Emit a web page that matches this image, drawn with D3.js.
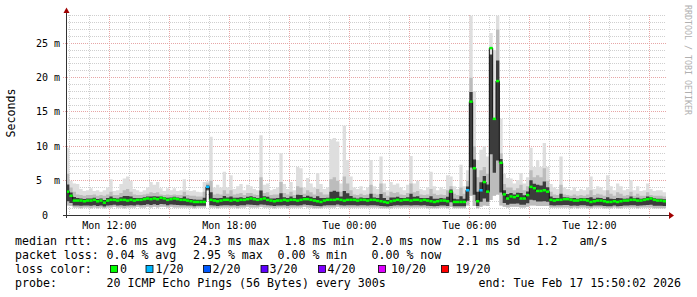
<!DOCTYPE html>
<html><head><meta charset="utf-8">
<script src="https://cdn.jsdelivr.net/npm/d3@7"></script>
<style>
html,body{margin:0;padding:0;background:#fff;}
svg text{font-family:"DejaVu Sans Mono",monospace;white-space:pre;}
</style></head><body>
<svg id="c" width="697" height="297"></svg>
<script>
// ---- data (10-minute buckets, Mon Feb 16 09:50 -> Tue Feb 17 15:50) ----
const stepMinutes = 10;
const medianRtt = [
3.4,2.8,2.1,2.1,2.1,2.0,2.1,2.1,2.2,2.0,
2.1,1.8,2.1,2.2,2.2,2.1,2.2,2.2,2.1,2.2,
2.1,2.2,2.2,2.3,2.4,2.3,2.4,2.3,2.5,2.4,
2.2,2.3,2.4,2.3,2.2,2.2,2.1,2.0,1.9,1.9,
1.9,1.9,4.1,2.2,2.1,2.0,2.1,2.2,2.2,2.1,
2.2,2.1,2.2,2.2,2.3,2.4,2.3,2.2,2.3,2.4,
2.2,2.1,2.0,2.1,2.1,2.2,2.1,2.2,2.2,2.1,
2.2,2.3,2.3,2.2,2.1,2.0,1.9,2.1,2.2,2.2,
2.2,2.3,2.2,2.1,2.2,2.2,2.2,2.1,2.2,2.2,
2.1,2.2,2.2,2.1,2.0,1.9,1.8,2.0,2.1,2.2,
2.1,2.2,2.2,2.1,2.2,2.2,2.1,2.2,2.1,2.0,
1.9,2.0,2.1,2.1,2.0,3.4,1.9,1.9,1.9,1.9,
3.6,16.5,6.8,2.0,3.6,4.8,3.4,24.3,14.0,19.5,
7.6,3.0,2.4,2.7,2.6,2.8,2.4,2.4,2.9,4.1,
3.9,3.5,3.5,3.6,3.4,2.2,2.1,2.2,2.2,2.3,
2.3,2.2,2.1,2.1,2.2,2.2,2.1,1.9,2.0,2.1,
2.1,2.0,1.9,1.9,2.0,1.9,2.0,2.1,2.1,2.2,
2.2,2.1,2.1,2.2,2.3,2.4,2.2,2.1,2.1,2.0];
const lossCount = [
0,0,0,0,0,0,0,0,0,0, 0,0,0,0,0,0,0,0,0,0,
0,0,0,0,0,0,0,0,0,0, 0,0,0,0,0,0,0,0,0,0,
0,0,1,0,0,0,0,0,0,0, 0,0,0,0,0,0,0,0,0,0,
0,0,0,0,0,0,0,0,0,0, 0,0,0,0,0,0,0,0,0,0,
0,0,0,0,0,0,0,0,0,0, 0,0,0,0,0,0,0,0,0,0,
0,0,0,0,0,0,0,0,0,0, 0,0,0,0,0,0,0,0,0,0,
1,0,0,0,1,0,0,0,0,0, 0,0,0,0,0,0,0,0,0,0,
0,0,0,0,0,0,0,0,0,0, 0,0,0,0,0,0,0,0,0,0,
0,0,0,0,0,0,0,0,0,0, 0,0,0,0,0,0,0,0,0,0];
const smokeMin = [
1.4,1.3,1.1,1.1,1.0,1.1,1.1,1.0,1.1,1.0,
1.1,1.0,1.1,1.1,1.2,1.1,1.1,1.0,1.1,1.1,
1.1,1.2,1.1,1.1,1.2,1.1,1.2,1.1,1.2,1.2,
1.1,1.2,1.1,1.1,1.1,1.1,1.1,1.1,1.0,1.1,
1.1,1.1,3.5,1.1,1.1,1.0,1.1,1.1,1.1,1.1,
1.1,1.0,1.1,1.1,1.2,1.1,1.1,1.1,1.2,1.1,
1.1,1.1,1.0,1.1,1.1,1.1,1.0,1.1,1.1,1.1,
1.1,1.2,1.1,1.1,1.0,1.0,1.0,1.1,1.1,1.1,
1.1,1.2,1.1,1.1,1.1,1.1,1.1,1.1,1.1,1.1,
1.1,1.1,1.1,1.1,1.0,1.0,1.0,1.0,1.1,1.1,
1.1,1.1,1.1,1.1,1.1,1.1,1.1,1.1,1.0,1.0,
1.0,1.0,1.1,1.1,1.0,1.2,1.0,1.0,1.0,1.0,
1.4,2.8,1.3,1.0,1.2,1.4,1.3,2.2,2.8,3.0,
1.4,1.2,1.1,1.2,1.2,1.2,1.1,1.1,1.2,1.4,
1.4,1.3,1.3,1.3,1.3,1.1,1.1,1.1,1.1,1.1,
1.1,1.0,1.1,1.0,1.1,1.1,1.0,1.0,1.1,1.1,
1.1,1.0,1.0,1.0,1.1,1.0,1.0,1.1,1.1,1.1,
1.1,1.0,1.1,1.1,1.1,1.1,1.0,1.0,1.0,1.0];
const smokeMid = [
6.0,4.0,3.4,3.0,2.9,2.8,2.9,2.9,3.0,2.8,
2.9,2.8,3.0,3.4,2.9,2.9,3.2,3.6,3.8,3.4,
3.0,2.9,2.9,3.0,3.1,3.3,3.2,3.3,3.0,2.9,
3.0,2.9,3.0,2.9,2.9,3.4,2.9,2.8,2.8,2.7,
2.7,3.4,4.6,5.0,3.0,3.1,3.0,3.6,3.1,3.6,
3.0,3.1,3.2,2.9,3.2,3.2,3.0,2.9,5.5,3.2,
3.3,2.9,3.0,3.0,4.8,3.2,3.0,3.4,2.9,4.2,
4.0,3.1,3.6,3.3,3.0,3.8,3.3,3.0,3.0,5.2,
5.5,5.0,3.4,5.6,4.6,3.6,3.0,2.9,3.1,2.9,
3.0,4.4,3.1,3.0,4.6,3.3,2.8,3.4,3.2,3.3,
3.0,2.9,3.2,4.6,3.3,3.5,3.0,2.9,3.0,3.8,
3.1,2.9,3.0,2.9,3.6,4.2,3.1,2.9,4.0,3.1,
5.0,20.0,10.0,5.5,6.5,7.0,6.0,22.0,14.0,27.0,
9.0,4.5,4.0,4.0,3.6,3.9,4.4,3.6,4.2,6.5,
5.5,5.8,5.5,6.8,5.0,3.4,3.0,2.9,4.4,3.0,
2.9,2.8,3.0,2.8,2.9,2.8,3.0,3.6,2.9,3.1,
3.0,2.8,3.6,3.1,2.8,3.3,3.1,2.8,2.9,3.4,
2.8,3.1,2.8,2.8,3.3,2.9,2.8,2.8,2.8,2.7];
const smokeMax = [
9.8,5.0,4.6,4.5,3.8,3.5,3.6,3.9,3.5,3.6,
3.4,3.6,4.0,5.2,3.5,3.6,4.5,5.3,5.6,5.0,
3.8,3.6,3.4,3.6,4.0,4.8,4.4,4.8,3.9,3.5,
3.9,3.6,3.9,3.5,3.6,5.2,3.6,3.5,3.6,3.4,
3.3,4.8,4.9,11.4,4.0,4.4,4.0,6.3,4.0,5.8,
3.8,4.2,4.5,3.6,4.4,4.2,3.8,3.6,11.6,4.4,
4.6,3.6,3.8,4.0,9.0,4.5,3.8,4.8,3.6,7.0,
6.8,4.0,5.4,4.6,4.0,6.1,4.5,3.8,4.0,11.0,
11.2,10.7,4.6,13.0,8.0,5.6,4.0,3.8,4.2,3.6,
4.0,8.0,4.2,3.8,8.5,4.6,3.6,4.8,4.4,4.6,
4.0,3.6,4.4,8.6,4.6,5.0,3.8,3.6,4.0,6.3,
4.2,3.6,4.0,3.8,5.8,5.6,4.2,3.8,7.3,4.2,
6.5,29.0,18.0,8.0,9.5,10.0,8.5,26.5,24.0,29.0,
14.0,6.0,5.4,5.3,4.6,5.1,6.1,4.6,5.5,9.8,
7.0,8.0,7.0,10.5,7.0,4.5,4.0,3.8,8.5,4.0,
3.8,3.6,4.0,3.5,3.8,3.6,4.0,5.6,3.8,4.2,
4.0,3.6,5.8,4.2,3.6,4.6,4.2,3.6,3.8,5.1,
3.6,4.2,3.5,3.6,4.6,3.8,3.5,3.6,3.6,3.3];

const yTicks = [0,5,10,15,20,25];
const yTickLabels = ["0","5  m","10 m","15 m","20 m","25 m"];
const lossLabels = ["0","1/20","2/20","3/20","4/20","10/20","19/20"];
const lossLevels = [0,1,2,3,4,10,19];
const lossColors = ["#00ff00","#00b8ff","#0059ff","#5e00ff","#7e00ff","#dd00ff","#ff0000"];
const statRows = [
  ["median rtt:", "2.6 ms avg", "24.3 ms max", "1.8 ms min", "2.0 ms now", "2.1 ms sd", "1.2", "am/s"],
  ["packet loss:", "0.04 % avg", "2.95 % max", "0.00 % min", "0.00 % now"]
];
const probeText = "20 ICMP Echo Pings (56 Bytes) every 300s";
const endText = "end: Tue Feb 17 15:50:02 2026";

// ---- scales ----
const svg = d3.select("#c");
const t0 = new Date(2026,1,16,9,50), t1 = new Date(2026,1,17,15,50);
const x = d3.scaleTime().domain([t0,t1]).range([66,666]);
const y = d3.scaleLinear().domain([0,29.12]).range([215,15]);
const px = v => Math.floor(v)+0.5;

// ---- grid ----
const grid = svg.append("g").attr("shape-rendering","crispEdges");
d3.range(1,30).forEach(v=>{
  const maj = v%5===0;
  grid.append("line").attr("x1",maj?63:66).attr("x2",666).attr("y1",px(y(v))).attr("y2",px(y(v)))
    .attr("stroke",maj?"#e7a6a6":"#cfcfcf").attr("stroke-dasharray","1,1");
});
d3.timeHour.range(d3.timeHour.ceil(t0), t1).forEach(t=>{
  const maj = t.getHours()%3===0;
  grid.append("line").attr("x1",px(x(t))).attr("x2",px(x(t))).attr("y1",15).attr("y2",maj?218:215)
    .attr("stroke",maj?"#e7a6a6":"#cfcfcf").attr("stroke-dasharray","1,1");
});

// ---- smoke ----
const n = medianRtt.length;
const pts = d3.range(n+1).map(i=>{
  const k = Math.min(i,n-1);
  const med = medianRtt[k], lo = smokeMin[k], mid = smokeMid[k];
  return {t:d3.timeMinute.offset(t0,i*stepMinutes), med, lo, mid, hi:smokeMax[k],
          d0: lo+(med-lo)*0.3, d1: med+(mid-med)*0.4};
});
const area = (a,b)=>d3.area().curve(d3.curveStepAfter).x(d=>x(d.t)).y0(d=>y(d[a])).y1(d=>y(d[b]));
svg.append("path").datum(pts).attr("d",area("lo","hi")).attr("fill","#dedede");
svg.append("path").datum(pts).attr("d",area("lo","mid")).attr("fill","#bcbcbc");
svg.append("path").datum(pts).attr("d",area("d0","d1")).attr("fill","#3c3c3c");

// ---- median line ----
svg.append("path").datum(pts)
  .attr("d",d3.line().curve(d3.curveStepAfter).x(d=>x(d.t)).y(d=>y(d.med)))
  .attr("fill","none").attr("stroke","#111").attr("stroke-width",1);
const lossColor = c => { let col = lossColors[0]; lossLevels.forEach((l,j)=>{ if(c>=l) col = lossColors[j]; }); return col; };
svg.append("g").selectAll("line").data(d3.range(n)).join("line")
  .attr("x1",i=>x(pts[i].t)).attr("x2",i=>x(pts[i+1].t))
  .attr("y1",i=>y(medianRtt[i])).attr("y2",i=>y(medianRtt[i]))
  .attr("stroke",i=>lossColor(lossCount[i])).attr("stroke-width",2.5);

// ---- axes ----
const ax = svg.append("g").attr("shape-rendering","crispEdges");
ax.append("line").attr("x1",63).attr("x2",669).attr("y1",215.5).attr("y2",215.5).attr("stroke","#333");
ax.append("line").attr("x1",66.5).attr("x2",66.5).attr("y1",218).attr("y2",12).attr("stroke","#333");
svg.append("path").attr("d","M669,212 L674,215.5 L669,219 Z").attr("fill","#a00000");
svg.append("path").attr("d","M63.5,13 L66.5,7.5 L69.5,13 Z").attr("fill","#a00000");

// y tick labels
svg.append("g").selectAll("text").data(yTicks).join("text")
  .attr("x",(d,i)=> i===0?48:60).attr("y",d=>y(d)+3.5).attr("text-anchor","end")
  .attr("font-size","10px").attr("fill","#000").text((d,i)=>yTickLabels[i]);
// x tick labels
const fmt = d3.timeFormat("%a %H:%M");
svg.append("g").selectAll("text").data(d3.timeHour.every(6).range(t0,t1)).join("text")
  .attr("x",d=>x(d)).attr("y",229).attr("text-anchor","middle")
  .attr("font-size","10px").attr("fill","#000").text(d=>fmt(d));

// axis title
svg.append("text").attr("transform","translate(15,113) rotate(-90)").attr("text-anchor","middle")
  .attr("font-size","11.6px").attr("fill","#000").text("Seconds");
// watermark
svg.append("text").attr("transform","translate(685,5) rotate(90)")
  .attr("font-size","8.3px").attr("fill","#b0b0b0").text("RRDTOOL / TOBI OETIKER");

// ---- legend ----
const lg = svg.append("g").attr("font-size","11.6px").attr("fill","#000");
const rowX = [[15,106.5,193,284.5,371.5,457.5,536.5,579.5],[15,106.5,193,277.5,371.5]];
statRows.forEach((row,r)=>row.forEach((s,j)=>{
  lg.append("text").attr("x",rowX[r][j]).attr("y",245+r*14).text(s);
}));
lg.append("text").attr("x",15).attr("y",273).text("loss color:");
const boxX = [110.5,146,203.5,261,318.5,378.5,441.5];
const labX = [120,155.5,212.5,269.5,327.5,391,455.5];
lossLabels.forEach((l,j)=>{
  lg.append("rect").attr("x",boxX[j]).attr("y",265.5).attr("width",7).attr("height",7)
    .attr("fill",lossColors[j]).attr("stroke","#000").attr("stroke-width",0.8);
  lg.append("text").attr("x",labX[j]).attr("y",273).text(l);
});
lg.append("text").attr("x",15).attr("y",287).text("probe:");
lg.append("text").attr("x",106.5).attr("y",287).text(probeText);
lg.append("text").attr("x",681).attr("y",287).attr("text-anchor","end").text(endText);
</script>
</body></html>
